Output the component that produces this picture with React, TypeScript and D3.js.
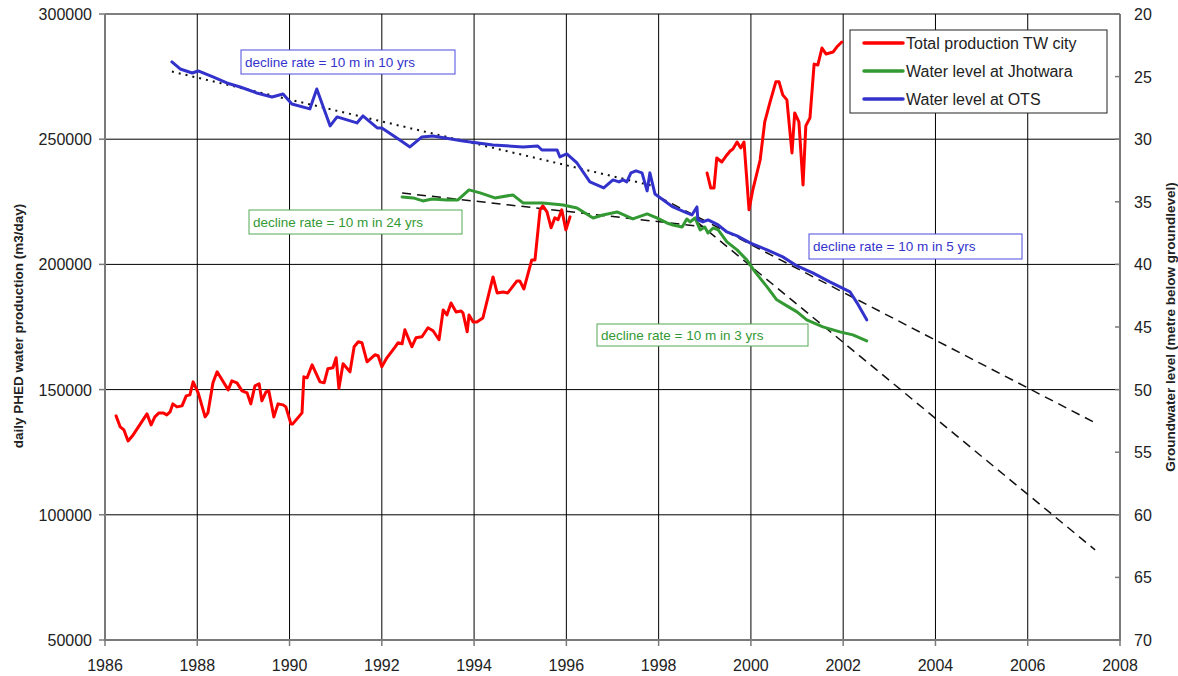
import React, { useEffect, useRef } from 'react';
import * as d3 from 'd3';

// Total production TW city (m3/day) - null marks the gap 1996-1999
const prodYears = [
  1986.24, 1986.33, 1986.41, 1986.5, 1986.61, 1986.91, 1987.0, 1987.08, 1987.17, 1987.26,
  1987.34, 1987.41, 1987.47, 1987.56, 1987.67, 1987.76, 1987.84, 1987.91, 1988.02, 1988.17,
  1988.23, 1988.34, 1988.43, 1988.51, 1988.67, 1988.75, 1988.86, 1988.97, 1989.08, 1989.16,
  1989.25, 1989.34, 1989.4, 1989.49, 1989.55, 1989.66, 1989.75, 1989.86, 1989.92, 1990.03,
  1990.07, 1990.27, 1990.31, 1990.38, 1990.49, 1990.66, 1990.75, 1990.83, 1990.94, 1991.01,
  1991.07, 1991.16, 1991.31, 1991.4, 1991.49, 1991.57, 1991.68, 1991.85, 1991.92, 1992.0,
  1992.11, 1992.29, 1992.35, 1992.44, 1992.5, 1992.65, 1992.74, 1992.87, 1993.0, 1993.11,
  1993.24, 1993.33, 1993.41, 1993.5, 1993.61, 1993.72, 1993.76, 1993.85, 1993.89, 1993.98,
  1994.06, 1994.19, 1994.41, 1994.5, 1994.63, 1994.73, 1994.93, 1994.99, 1995.08, 1995.25,
  1995.32, 1995.43, 1995.49, 1995.58, 1995.67, 1995.75, 1995.82, 1995.9, 1995.99, 1996.08,
  1997.5,
  1999.05, 1999.13, 1999.2, 1999.26, 1999.37, 1999.48, 1999.55, 1999.61, 1999.7, 1999.78,
  1999.85, 1999.96, 2000.04, 2000.2, 2000.3, 2000.41, 2000.54, 2000.61, 2000.69, 2000.78,
  2000.89, 2000.95, 2001.04, 2001.13, 2001.19, 2001.28, 2001.37, 2001.45, 2001.54, 2001.63,
  2001.78, 2001.86, 2001.97,
];
const prodValues = [
  139500, 135100, 133900, 129500, 131900, 140300, 135900, 139100, 140700, 140700,
  139900, 141100, 144300, 143100, 143500, 147500, 147900, 153100, 148700, 139100,
  140700, 152700, 157100, 154700, 149900, 153500, 152700, 149500, 148700, 144300,
  151500, 152300, 145500, 149100, 149500, 139100, 144300, 143900, 143100, 136300,
  136300, 140700, 155100, 154700, 159900, 153100, 152700, 158300, 158700, 162700,
  150500, 160300, 157100, 167100, 169100, 168700, 161100, 163900, 163500, 159100,
  162700, 167100, 168700, 168300, 173900, 167100, 170700, 171100, 174700, 173500,
  169900, 181800, 179800, 184600, 181000, 181400, 180600, 173100, 179800, 177000,
  177000, 178600, 195000, 188600, 189000, 188600, 193400, 193400, 190200, 201800,
  201800, 221800, 223400, 221000, 214600, 218600, 217800, 221800, 213800, 219000,
  null,
  236500, 230500, 230500, 242500, 240900, 243700, 245300, 246100, 248900, 246500,
  248900, 221800, 229700, 241700, 256900, 264500, 272900, 272900, 267700, 265700,
  244500, 260500, 256900, 231700, 255300, 258500, 280000, 279600, 286400, 284000,
  284800, 286800, 288800,
];

// Water level at Jhotwara (m below groundlevel)
const jhotYears = [
  1992.44, 1992.68, 1992.89, 1993.09, 1993.41, 1993.65, 1993.89, 1994.13, 1994.45, 1994.84,
  1995.06, 1995.49, 1995.93, 1996.23, 1996.58, 1996.79, 1997.1, 1997.44, 1997.75, 1997.96,
  1998.18, 1998.31, 1998.51, 1998.61, 1998.68, 1998.79, 1998.9, 1999.0, 1999.07, 1999.18,
  1999.29, 1999.48, 1999.7, 1999.91, 2000.09, 2000.35, 2000.56, 2000.78, 2001.0, 2001.21,
  2001.56, 2001.93, 2002.21, 2002.51,
];
const jhotLevels = [
  34.61, 34.69, 34.93, 34.77, 34.85, 34.85, 34.05, 34.29, 34.69, 34.45,
  35.09, 35.09, 35.25, 35.49, 36.29, 36.05, 35.81, 36.37, 35.97, 36.29,
  36.69, 36.85, 37.01, 36.37, 36.61, 36.29, 37.25, 37.01, 37.49, 37.09,
  37.25, 38.2, 38.84, 39.64, 40.6, 41.8, 42.83, 43.31, 43.79, 44.43,
  44.99, 45.39, 45.63, 46.11,
];

// Water level at OTS (m below groundlevel)
const otsYears = [
  1987.45, 1987.63, 1987.89, 1988.02, 1988.34, 1988.64, 1988.93, 1989.29, 1989.62, 1989.86,
  1990.05, 1990.44, 1990.59, 1990.88, 1991.03, 1991.46, 1991.59, 1991.9, 1992.0, 1992.39,
  1992.61, 1992.87, 1993.11, 1993.76, 1994.41, 1995.06, 1995.38, 1995.47, 1995.8, 1995.86,
  1996.01, 1996.23, 1996.51, 1996.81, 1997.01, 1997.14, 1997.23, 1997.31, 1997.4, 1997.51,
  1997.64, 1997.75, 1997.81, 1997.92, 1998.01, 1998.31, 1998.61, 1998.72, 1998.83, 1998.85,
  1998.96, 1999.07, 1999.16, 1999.29, 1999.48, 1999.7, 1999.98, 2000.35, 2000.69, 2001.0,
  2001.34, 2001.71, 2002.15, 2002.3, 2002.51,
];
const otsLevels = [
  23.83, 24.39, 24.71, 24.55, 25.03, 25.51, 25.83, 26.31, 26.63, 26.39,
  27.19, 27.58, 25.99, 28.94, 28.22, 28.7, 28.14, 29.1, 29.1, 30.06,
  30.62, 29.82, 29.74, 30.14, 30.46, 30.62, 30.54, 30.86, 30.86, 31.42,
  31.18, 31.9, 33.41, 33.89, 33.25, 33.41, 33.25, 33.41, 32.69, 32.53,
  32.69, 34.13, 32.69, 34.37, 34.61, 35.41, 35.89, 36.05, 35.41, 36.45,
  36.61, 36.45, 36.61, 36.85, 37.41, 37.72, 38.28, 38.84, 39.4, 40.12,
  40.68, 41.4, 42.2, 43.07, 44.43,
];

// trend lines: start and end (year, level)
const trendNames = ['ots10', 'jhot24', 'ots5', 'jhot3'];
const trendStartYears = [1987.45, 1992.44, 1998.0, 1998.83];
const trendStartLevels = [24.6, 34.3, 34.6, 36.6];
const trendEndYears = [1997.85, 1999.0, 2007.46, 2007.46];
const trendEndLevels = [33.7, 37.0, 52.65, 62.8];

const seriesNames = ['Total production TW city', 'Water level at Jhotwara', 'Water level at OTS'];
const seriesColors = ['#ff0000', '#339933', '#3333cc'];

const noteTexts = [
  'decline rate = 10 m in 10 yrs',
  'decline rate = 10 m in 24 yrs',
  'decline rate = 10 m in 5 yrs',
  'decline rate = 10 m in 3 yrs',
];

const yearTicks = d3.range(1986, 2009, 2);
const prodTicks = d3.range(50000, 300001, 50000);
const levelTicks = d3.range(20, 71, 5);

const FONT = "'Liberation Sans', Arial, sans-serif";

const App = () => {
  const ref = useRef<SVGSVGElement>(null);

  useEffect(() => {
    const width = 1178;
    const height = 676;
    const left = 105;
    const right = 1120;
    const top = 14;
    const bottom = 640;

    const x = d3.scaleLinear().domain([1986, 2008]).range([left, right]);
    const yL = d3.scaleLinear().domain([50000, 300000]).range([bottom, top]);
    const yR = d3.scaleLinear().domain([20, 70]).range([top, bottom]);

    const svg = d3.select(ref.current);
    svg.selectAll('*').remove();
    svg.attr('width', width).attr('height', height);
    svg.append('rect').attr('width', width).attr('height', height).attr('fill', '#fff');

    // grid
    const grid = svg.append('g');
    grid.selectAll('line.v')
      .data(yearTicks.filter(t => t > 1986 && t < 2008))
      .enter().append('line')
      .attr('x1', d => x(d)).attr('x2', d => x(d))
      .attr('y1', top).attr('y2', bottom)
      .attr('stroke', '#000').attr('stroke-width', 1);
    grid.selectAll('line.h')
      .data(prodTicks.filter(t => t > 50000))
      .enter().append('line')
      .attr('x1', left).attr('x2', right)
      .attr('y1', d => yL(d)).attr('y2', d => yL(d))
      .attr('stroke', '#000').attr('stroke-width', 1);

    // axes
    const axisColor = '#7a7a7a';
    const ax = svg.append('g');
    ax.append('line').attr('x1', left).attr('x2', left).attr('y1', top).attr('y2', bottom + 1)
      .attr('stroke', axisColor).attr('stroke-width', 2);
    ax.append('line').attr('x1', right).attr('x2', right).attr('y1', top).attr('y2', bottom + 1)
      .attr('stroke', axisColor).attr('stroke-width', 2);
    ax.append('line').attr('x1', left).attr('x2', right).attr('y1', bottom).attr('y2', bottom)
      .attr('stroke', axisColor).attr('stroke-width', 2);

    ax.selectAll('line.xt').data(yearTicks).enter().append('line')
      .attr('x1', d => x(d)).attr('x2', d => x(d))
      .attr('y1', bottom).attr('y2', bottom + 6)
      .attr('stroke', axisColor).attr('stroke-width', 1.5);
    ax.selectAll('text.xl').data(yearTicks).enter().append('text')
      .attr('x', d => x(d)).attr('y', bottom + 31)
      .attr('text-anchor', 'middle')
      .style('font', `16px ${FONT}`).attr('fill', '#222')
      .text(d => d);

    ax.selectAll('line.yt').data(prodTicks).enter().append('line')
      .attr('x1', left - 6).attr('x2', left)
      .attr('y1', d => yL(d)).attr('y2', d => yL(d))
      .attr('stroke', axisColor).attr('stroke-width', 1.5);
    ax.selectAll('text.yl').data(prodTicks).enter().append('text')
      .attr('x', left - 13).attr('y', d => yL(d) + 6)
      .attr('text-anchor', 'end')
      .style('font', `16px ${FONT}`).attr('fill', '#222')
      .text(d => d);

    ax.selectAll('line.rt').data(levelTicks).enter().append('line')
      .attr('x1', right - 5).attr('x2', right)
      .attr('y1', d => yR(d)).attr('y2', d => yR(d))
      .attr('stroke', axisColor).attr('stroke-width', 1.5);
    ax.selectAll('text.rl').data(levelTicks).enter().append('text')
      .attr('x', right + 14).attr('y', d => yR(d) + 6)
      .attr('text-anchor', 'start')
      .style('font', `16px ${FONT}`).attr('fill', '#222')
      .text(d => d);

    svg.append('text')
      .attr('transform', `translate(23,326) rotate(-90)`)
      .attr('text-anchor', 'middle')
      .style('font', `bold 13.5px ${FONT}`).attr('fill', '#222')
      .text('daily PHED water production (m3/day)');
    svg.append('text')
      .attr('transform', `translate(1175,327) rotate(-90)`)
      .attr('text-anchor', 'middle')
      .style('font', `bold 13.5px ${FONT}`).attr('fill', '#222')
      .text('Groundwater level (metre below groundlevel)');

    // trend lines
    const trends = svg.append('g');
    trendNames.forEach((name, i) => {
      trends.append('line')
        .attr('x1', x(trendStartYears[i])).attr('y1', yR(trendStartLevels[i]))
        .attr('x2', x(trendEndYears[i])).attr('y2', yR(trendEndLevels[i]))
        .attr('stroke', '#111').attr('stroke-width', name === 'ots10' ? 2 : 1.5)
        .attr('stroke-dasharray', name === 'ots10' ? '2,5' : '9,6');
    });

    // data lines
    const lineL = d3.line<number | null>()
      .defined(d => d !== null)
      .x((_, i) => x(prodYears[i]))
      .y(d => yL(d as number));
    svg.append('path').datum(prodValues)
      .attr('d', lineL).attr('fill', 'none')
      .attr('stroke', seriesColors[0]).attr('stroke-width', 3)
      .attr('stroke-linejoin', 'round').attr('stroke-linecap', 'round');

    const drawLevel = (years: number[], levels: number[], color: string) => {
      const l = d3.line<number>().x((_, i) => x(years[i])).y(d => yR(d));
      svg.append('path').datum(levels)
        .attr('d', l).attr('fill', 'none')
        .attr('stroke', color).attr('stroke-width', 3)
        .attr('stroke-linejoin', 'round').attr('stroke-linecap', 'round');
    };
    drawLevel(jhotYears, jhotLevels, seriesColors[1]);
    drawLevel(otsYears, otsLevels, seriesColors[2]);

    // annotation boxes
    const notes = [
      { x: 241, y: 50, w: 214, h: 24, c: seriesColors[2], b: '#4a4ae0' },
      { x: 249, y: 210, w: 213, h: 24, c: seriesColors[1], b: '#55aa55' },
      { x: 809, y: 234, w: 213, h: 25, c: seriesColors[2], b: '#4a4ae0' },
      { x: 597, y: 324, w: 211, h: 22, c: seriesColors[1], b: '#55aa55' },
    ];
    notes.forEach((n, i) => {
      const g = svg.append('g');
      g.append('rect').attr('x', n.x).attr('y', n.y).attr('width', n.w).attr('height', n.h)
        .attr('fill', '#fff').attr('stroke', n.b).attr('stroke-width', 1);
      g.append('text').attr('x', n.x + 4).attr('y', n.y + n.h / 2 + 4.5)
        .style('font', `13.5px ${FONT}`).attr('fill', n.c)
        .text(noteTexts[i]);
    });

    // legend
    const lg = svg.append('g');
    lg.append('rect').attr('x', 850).attr('y', 30).attr('width', 257).attr('height', 83)
      .attr('fill', '#fff').attr('stroke', '#222').attr('stroke-width', 1);
    seriesNames.forEach((name, i) => {
      const yy = 43 + i * 28;
      lg.append('line').attr('x1', 864).attr('x2', 903).attr('y1', yy).attr('y2', yy)
        .attr('stroke', seriesColors[i]).attr('stroke-width', 3.5).attr('stroke-linecap', 'round');
      lg.append('text').attr('x', 906).attr('y', yy + 6)
        .style('font', `16px ${FONT}`).attr('fill', '#222')
        .text(name);
    });
  }, []);

  return (
    <svg ref={ref} style={{ position: 'absolute', left: 0, top: 0, display: 'block' }} />
  );
};

export default App;
